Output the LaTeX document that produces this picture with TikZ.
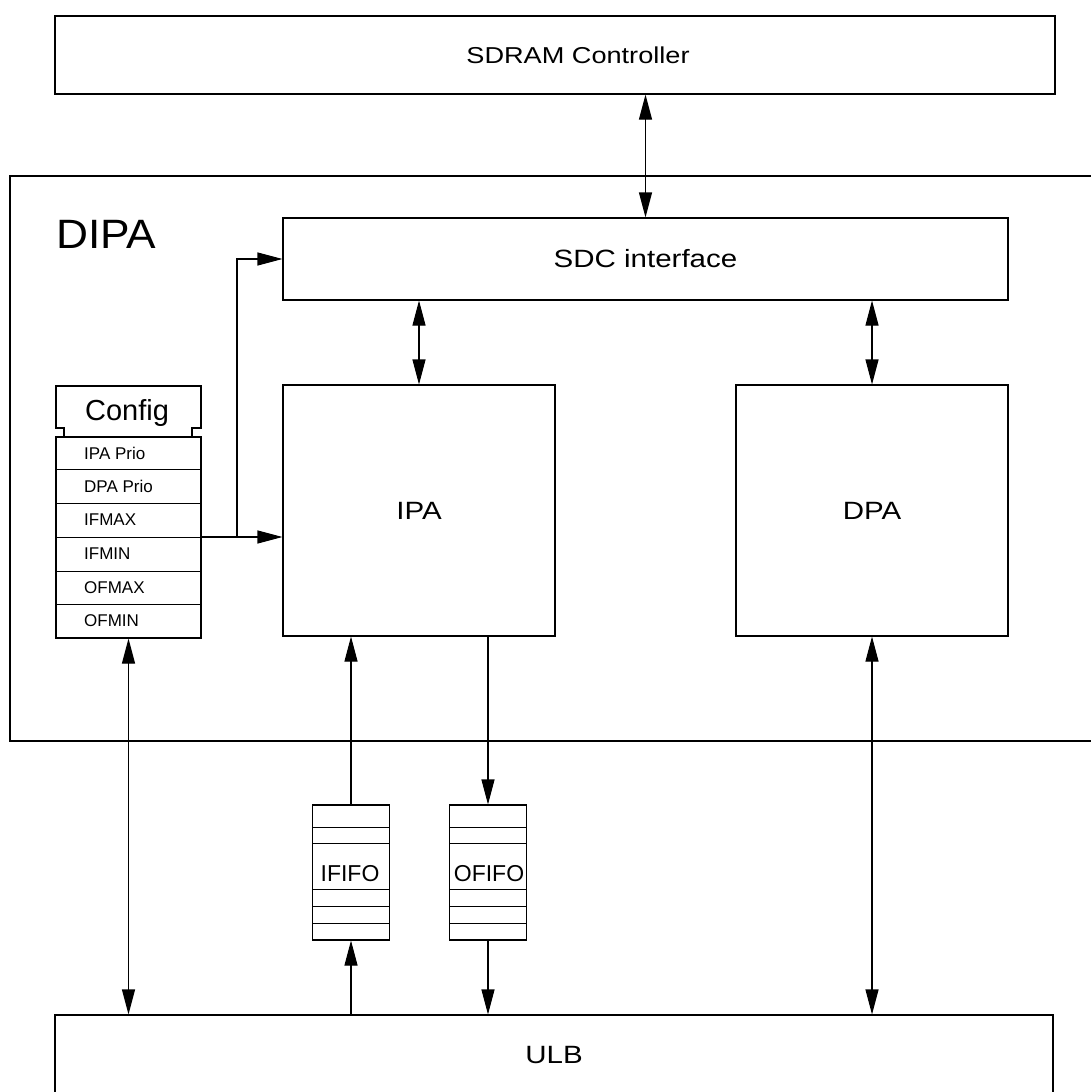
\documentclass[tikz,border=0pt]{standalone}
\usepackage{fontspec}
\setmainfont{Liberation Sans}
\newfontfamily\widefont[FakeStretch=1.18]{Liberation Sans}
\newfontfamily\semiwide[FakeStretch=1.08]{Liberation Sans}
\usetikzlibrary{arrows.meta}
\begin{document}
\begin{tikzpicture}[x=1pt,y=-1pt,
  box/.style={draw,line width=1.1pt,inner sep=0pt,anchor=center},
  big/.style={font=\widefont\fontsize{25}{30}\selectfont},
  tip/.style={-{Triangle[length=25pt,width=13pt]}},
  dtip/.style={{Triangle[length=25pt,width=13pt]}-{Triangle[length=25pt,width=13pt]}},
  con/.style={line width=1.1pt},
  rowlab/.style={anchor=west,inner sep=0pt,font=\fontsize{17}{20}\selectfont},
  fifo/.style={box,minimum width=77pt,minimum height=135pt}]
\useasboundingbox (0,0) rectangle (1091,1092);
% SDRAM controller
\node[box,minimum width=1000pt,minimum height=78pt] (sdram) at (555,55) {};
\node[inner sep=0pt,font=\widefont\fontsize{23}{28}\selectfont] (sdramlab) at (578,55) {SDRAM Controller};
% DIPA frame
\draw[line width=2.4pt] (1100,176) -- (10,176) -- (10,741) -- (1100,741);
\node[anchor=base west,inner sep=0pt,font=\semiwide\fontsize{41}{47}\selectfont] (dipa) at (56,248) {DIPA};
% SDC interface
\node[box,big,minimum width=725pt,minimum height=82pt] (sdc) at (645.5,259) {SDC interface};
% IPA, DPA
\node[box,big,minimum width=272pt,minimum height=251pt] (ipa) at (419,510.5) {IPA};
\node[box,big,minimum width=272pt,minimum height=251pt] (dpa) at (872,510.5) {DPA};
% Config
\draw[con] (64,437) -- (64,428) -- (56,428) -- (56,386) -- (201,386) -- (201,428) -- (192,428) -- (192,437);
\node[anchor=base,inner sep=0pt,font=\fontsize{29}{34}\selectfont] (cfglab) at (127,420) {Config};
\node[box,minimum width=145pt,minimum height=201pt] (cfg) at (128.5,537.5) {};
\foreach \yy in {469,503,537,571,604} \draw[line width=0.8pt] (56,\yy) -- (201,\yy);
\node[rowlab] (r1) at (84,453) {IPA Prio};
\node[rowlab] (r2) at (84,486) {DPA Prio};
\node[rowlab] (r3) at (84,520) {IFMAX};
\node[rowlab] (r4) at (84,554) {IFMIN};
\node[rowlab] (r5) at (84,587.5) {OFMAX};
\node[rowlab] (r6) at (84,621) {OFMIN};
% FIFOs
\node[fifo] (ififo) at (351,872.5) {};
\node[fifo] (ofifo) at (488,872.5) {};
\foreach \xx in {351,488} \foreach \yy in {827,843,889,906,923}
  \draw[line width=0.9pt] (\xx-38.5,\yy) -- (\xx+38.5,\yy);
\node[inner sep=0pt,anchor=base,font=\fontsize{23}{27}\selectfont] (ifl) at (350,881) {IFIFO};
\node[inner sep=0pt,anchor=base,font=\fontsize{23}{27}\selectfont] (ofl) at (489,881) {OFIFO};
% ULB
\node[box,big,minimum width=998pt,minimum height=80pt] (ulb) at (554,1055) {ULB};
% connectors
\draw[con,dtip] (sdram.south -| sdc.north) -- (sdc.north);
\draw[con,dtip] (sdc.south -| ipa.north) -- (ipa.north);
\draw[con,dtip] (sdc.south -| dpa.north) -- (dpa.north);
\coordinate (cfgout) at (201,537);
\coordinate (branch) at (237,537);
\draw[con,tip] (cfgout) -- (cfgout -| ipa.west);
\draw[con,tip] (branch) |- (sdc.west);
\draw[con,dtip] (cfg.south) -- (cfg.south |- ulb.north);
\draw[con,dtip] (dpa.south) -- (dpa.south |- ulb.north);
\draw[con,tip] (ififo.north) -- (ififo.north |- ipa.south);
\draw[con,tip] (ulb.north -| ififo.south) -- (ififo.south);
\draw[con,tip] (ipa.south -| ofifo.north) -- (ofifo.north);
\draw[con,tip] (ofifo.south) -- (ofifo.south |- ulb.north);
\end{tikzpicture}
\end{document}
